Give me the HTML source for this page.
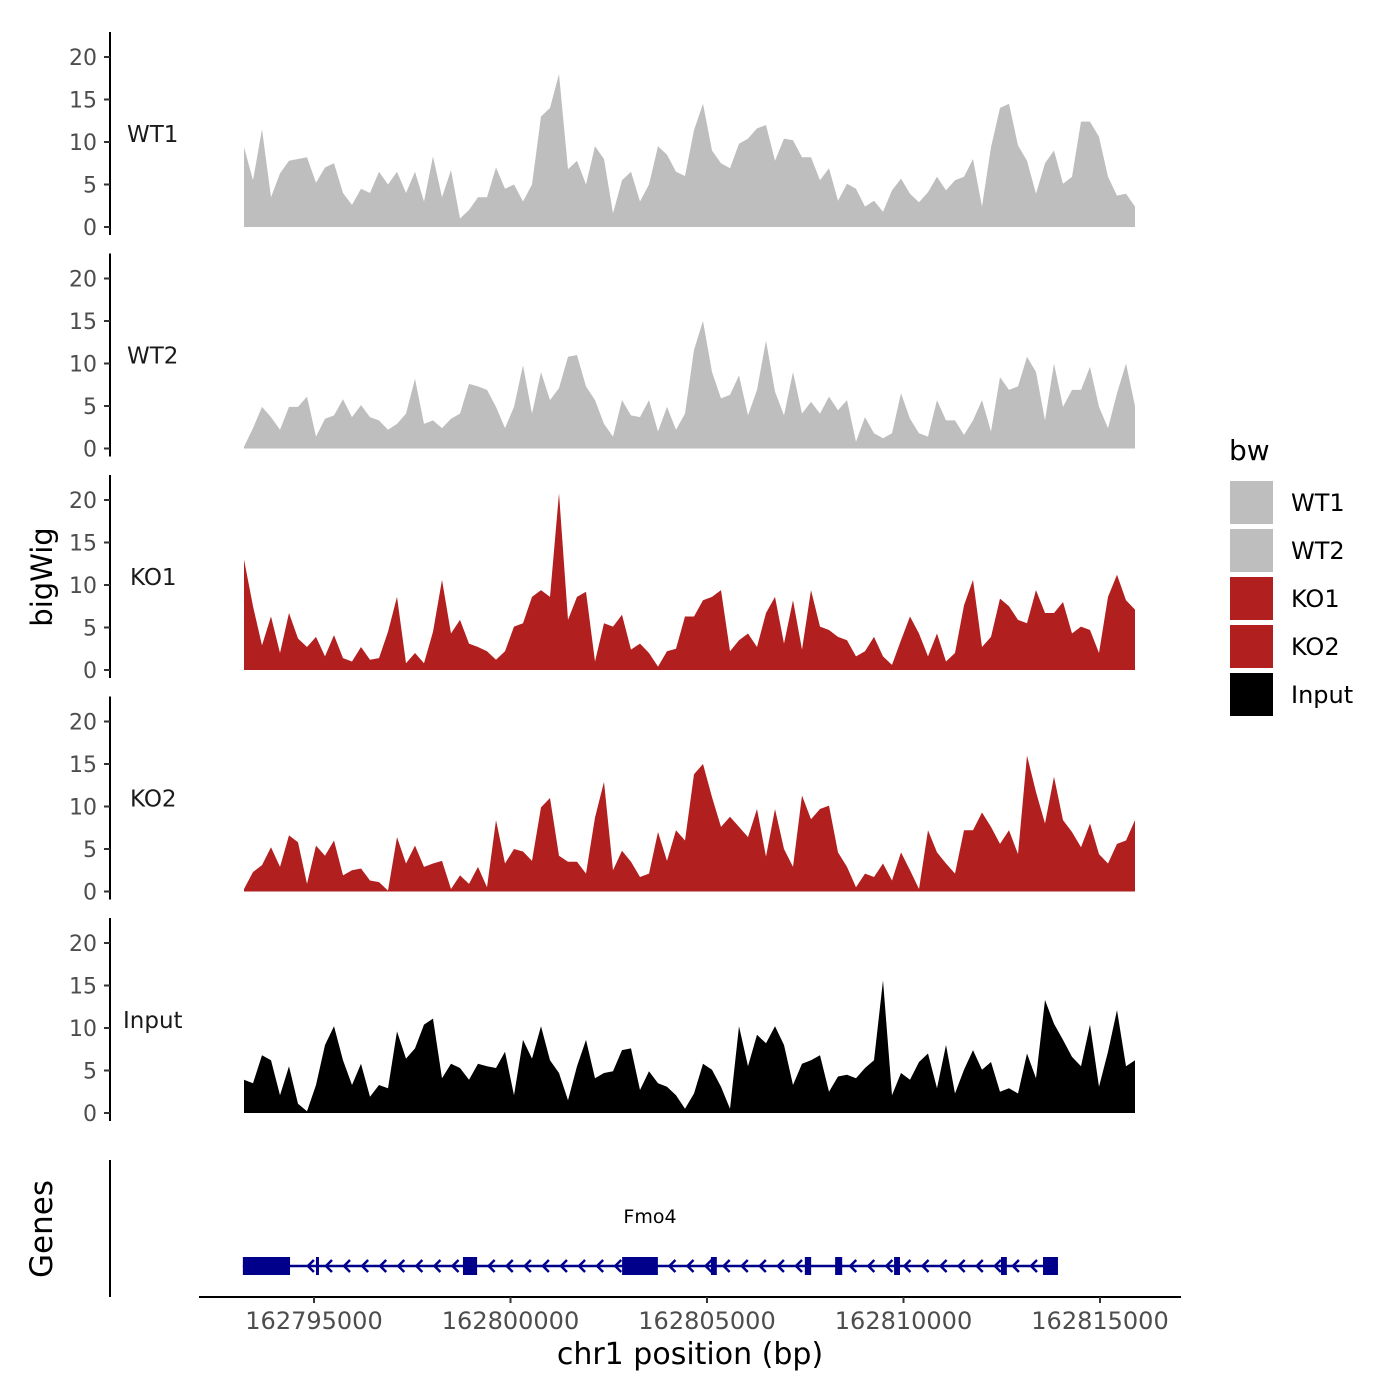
<!DOCTYPE html>
<html><head><meta charset="utf-8"><style>
html,body{margin:0;padding:0;background:#fff;}
svg{display:block;font-family:"DejaVu Sans","Liberation Sans",sans-serif;}
</style></head><body>
<svg id="chart" width="1400" height="1400" viewBox="0 0 1400 1400" xmlns="http://www.w3.org/2000/svg">
<g id="tracks"></g>
<g id="genes"></g>
<text x="0" y="0" transform="translate(52,577) rotate(-90)" font-size="29" text-anchor="middle" fill="#000">bigWig</text>
<text x="0" y="0" transform="translate(52,1229) rotate(-90)" font-size="31" text-anchor="middle" fill="#000">Genes</text>
<line x1="110" y1="1160" x2="110" y2="1297" stroke="#000" stroke-width="2"/>
<line x1="199" y1="1297" x2="1181" y2="1297" stroke="#000" stroke-width="2"/>
<g id="xaxis"></g>
<text x="690" y="1364" font-size="30" text-anchor="middle" fill="#000">chr1 position (bp)</text>
<g>
<text x="1229" y="460" font-size="28" fill="#000">bw</text>
<rect x="1230" y="481" width="43" height="43" fill="#bebebe"/>
<rect x="1230" y="529" width="43" height="43" fill="#bebebe"/>
<rect x="1230" y="577" width="43" height="43" fill="#b21f1f"/>
<rect x="1230" y="625" width="43" height="43" fill="#b21f1f"/>
<rect x="1230" y="673" width="43" height="43" fill="#000"/>
<text x="1291" y="511" font-size="24">WT1</text>
<text x="1291" y="559" font-size="24">WT2</text>
<text x="1291" y="607" font-size="24">KO1</text>
<text x="1291" y="655" font-size="24">KO2</text>
<text x="1291" y="703" font-size="24">Input</text>
</g>
</svg>
<script>
const binStartKb = 162793.22;
const binStepKb = 0.229;
const trackNames = ["WT1","WT2","KO1","KO2","Input"];
const trackColors = ["#bebebe","#bebebe","#b21f1f","#b21f1f","#000000"];
const yTicks = [0,5,10,15,20];
const xTickValues = [162795000,162800000,162805000,162810000,162815000];
const wt1 = [9.4,5.5,11.5,3.5,6.3,7.8,8,8.2,5.2,7,7.5,4,2.6,4.5,4,6.5,5,6.5,4,6.5,3,8.3,3.5,6.7,1,2,3.5,3.5,7,4.5,5,3,5,13,14,18,6.8,7.8,5,9.5,8,1.6,5.5,6.5,3,5,9.5,8.5,6.5,6,
11.4,14.5,9,7.5,6.9,9.8,10.4,11.6,12,7.8,10.4,10.2,8.2,8.2,5.5,6.9,3.1,5.1,4.5,2.4,3.1,1.8,4.3,5.7,3.9,2.9,4.1,5.9,4.3,5.5,5.9,8,2.4,9.4,14,14.5,9.6,7.8,3.9,7.5,9,5.1,5.9,12.4,12.4,10.6,5.9,3.7,3.9,2.4];
const wt2 = [0.2,2.4,4.9,3.7,2.2,4.9,4.9,6.1,1.4,3.5,3.9,5.8,3.7,5.1,3.7,3.3,2.2,2.9,4.1,8.2,2.9,3.3,2.4,3.5,4.1,7.6,7.3,6.9,4.9,2.4,4.9,9.8,4.1,9,5.7,7.1,10.8,11,7.3,5.7,2.9,1.4,5.7,3.9,3.7,5.7,2,4.9,2.2,4.1,
11.6,15,9,5.9,6.3,8.6,3.9,6.9,12.7,6.7,3.9,9,4.1,5.5,4.1,6.1,4.5,5.7,0.8,3.7,1.8,1.2,1.8,6.5,3.5,1.8,1.4,5.7,3.3,3.3,1.6,3.3,5.7,2,8.4,6.9,7.3,10.8,9,3.3,10,4.9,6.9,6.9,9.6,4.9,2.4,6.5,10,5];
const ko1 = [13,7.5,2.9,6.3,2,6.7,3.7,2.7,3.9,1.6,4.1,1.4,1,2.7,1.2,1.4,4.5,8.6,0.8,2,0.8,4.5,10.6,4.3,5.9,3.1,2.7,2.2,1.2,2.2,5.1,5.5,8.6,9.4,8.6,20.8,5.9,8.6,9.2,1,5.5,5.1,6.5,2.4,3.1,2,0.4,2.2,2.5,6.3,
6.3,8.2,8.6,9.4,2.2,3.5,4.3,2.7,6.7,8.6,3.1,8.2,2.4,9.4,5.1,4.7,3.9,3.5,1.6,2.2,3.9,1.6,0.6,3.5,6.3,4.3,1.6,4.3,1,2,7.6,10.6,2.7,3.9,8.4,7.5,5.9,5.5,9.4,6.7,6.7,8,4.3,5.1,4.7,2,8.6,11.2,8.2,7.1];
const ko2 = [0.3,2.3,3.1,5.2,2.9,6.6,5.8,0.9,5.4,4.2,6,1.9,2.5,2.7,1.3,1.1,0.1,6.4,3.3,5.4,2.9,3.3,3.6,0.3,1.9,0.9,2.9,0.5,8.4,3.3,5,4.7,3.6,9.9,11,4.2,3.5,3.5,2.1,8.7,12.9,2.5,4.8,3.5,1.7,2.1,7,3.6,7.2,6,
13.8,15,11.1,7.6,8.8,7.6,6.4,9.7,4.1,9.7,5,2.9,11.3,8.5,9.7,10.1,4.6,2.9,0.5,2.1,1.7,3.3,1.3,4.6,2.5,0.3,7.2,4.6,3.3,2.1,7.2,7.2,9.3,7.6,5.6,7.2,4.4,16,11.7,8,13.5,8.4,7,5.2,8,4.4,3.3,5.6,6,8.4];
const inputTrack = [3.9,3.5,6.8,6.2,2.1,5.5,1.1,0.2,3.3,8,10.2,6.2,3.3,5.8,1.9,3.3,2.9,9.6,6.4,7.6,10.4,11.1,4.1,5.8,5.3,3.9,5.8,5.5,5.3,7.2,2.1,8.6,6.4,10.2,6.2,4.7,1.5,5.5,8.6,4.1,4.7,4.9,7.4,7.6,2.7,4.9,3.5,3.1,2.1,0.5,
2.3,5.8,5.1,3.1,0.5,10.2,5.5,9.2,8.2,10.2,8,3.3,5.8,6.2,6.8,2.5,4.3,4.5,4.1,5.3,6.2,15.6,2.1,4.7,3.9,6,7,2.9,8,2.3,5.1,7.4,5.1,6,2.5,2.9,2.3,7,4.1,13.3,10.5,8.6,6.6,5.5,10.4,3.1,7.2,12.1,5.5,6.2];
const geneStartKb = 162793.19;
const geneEndKb = 162813.93;
const exonStartsKb = [162793.19,162795.05,162798.79,162802.84,162805.10,162807.49,162808.26,162809.76,162812.48,162813.55];
const exonEndsKb = [162794.39,162795.11,162799.15,162803.75,162805.25,162807.65,162808.44,162809.91,162812.63,162813.93];
const geneName = "Fmo4";

const series = [wt1, wt2, ko1, ko2, inputTrack];
const NS = "http://www.w3.org/2000/svg";
function xScale(kb){ return 314 + (kb - 162795) * 39.3; }
function trackZero(t){ return 227 + t * 221.5; }
function yScale(t, v){ return trackZero(t) - v * 8.5; }
function mk(tag, attrs, parent){ const e = document.createElementNS(NS, tag); for (const k in attrs) e.setAttribute(k, attrs[k]); parent.appendChild(e); return e; }

const tracksG = document.getElementById('tracks');
series.forEach((vals, t) => {
  const g = mk('g', {}, tracksG);
  
  
  const z = trackZero(t);
  const axis = mk('line', {x1:110, y1:z-195, x2:110, y2:z+8, stroke:'#000', 'stroke-width':2}, g);
  
  
  yTicks.forEach(v => {
    const y = yScale(t, v);
    const tk = mk('line', {x1:104, y1:y, x2:110, y2:y, stroke:'#333', 'stroke-width':2}, g);
    
    
    const lb = mk('text', {x:97, y:y+8, 'font-size':22, 'text-anchor':'end', fill:'#4d4d4d'}, g);
    
    
    lb.textContent = v;
  });
  const lab = mk('text', {x:t===4?123:(t>=2?130:127), y:z-85, 'font-size':23, fill:'#1a1a1a'}, g);
  
  
  lab.textContent = trackNames[t];
  let d = '';
  vals.forEach((v, i) => {
    const x = xScale(binStartKb + i * binStepKb);
    if (i === 0) d += 'M' + x.toFixed(1) + ',' + z;
    d += 'L' + x.toFixed(1) + ',' + yScale(t, v).toFixed(1);
    if (i === vals.length - 1) d += 'L' + x.toFixed(1) + ',' + z + 'Z';
  });
  const area = mk('path', {d:d, fill:trackColors[t]}, g);
  
  
});

const xg = document.getElementById('xaxis');
xTickValues.forEach(v => {
  const x = xScale(v / 1000);
  const tk = mk('line', {x1:x, y1:1297, x2:x, y2:1303, stroke:'#333', 'stroke-width':2}, xg);
  
  
  const lb = mk('text', {x:x, y:1329, 'font-size':24, 'text-anchor':'middle', fill:'#4d4d4d'}, xg);
  
  
  lb.textContent = v;
});

const gg = document.getElementById('genes');
const gy = 1266;
const gl = mk('line', {x1:xScale(geneStartKb), y1:gy, x2:xScale(geneEndKb), y2:gy, stroke:'#00008b', 'stroke-width':2.5}, gg);


for (let kb = geneStartKb + 0.3; kb < geneEndKb; kb += 0.46) {
  const inExon = exonStartsKb.some((s, i) => kb > s - 0.1 && kb < exonEndsKb[i] + 0.1);
  if (inExon) continue;
  const x = xScale(kb);
  const ch = mk('path', {d:'M'+(x+5)+','+(gy-6)+'L'+(x-1)+','+gy+'L'+(x+5)+','+(gy+6), fill:'none', stroke:'#00008b', 'stroke-width':2.5}, gg);
  
  
}
exonStartsKb.forEach((s, i) => {
  const x1 = xScale(s), x2 = xScale(exonEndsKb[i]);
  const r = mk('rect', {x:x1, y:gy-9, width:Math.max(3, x2-x1), height:18, fill:'#00008b'}, gg);
  
  
});
const gn = mk('text', {x:650, y:1223, 'font-size':19, 'text-anchor':'middle', fill:'#000'}, gg);


gn.textContent = geneName;
</script>
</body></html>
